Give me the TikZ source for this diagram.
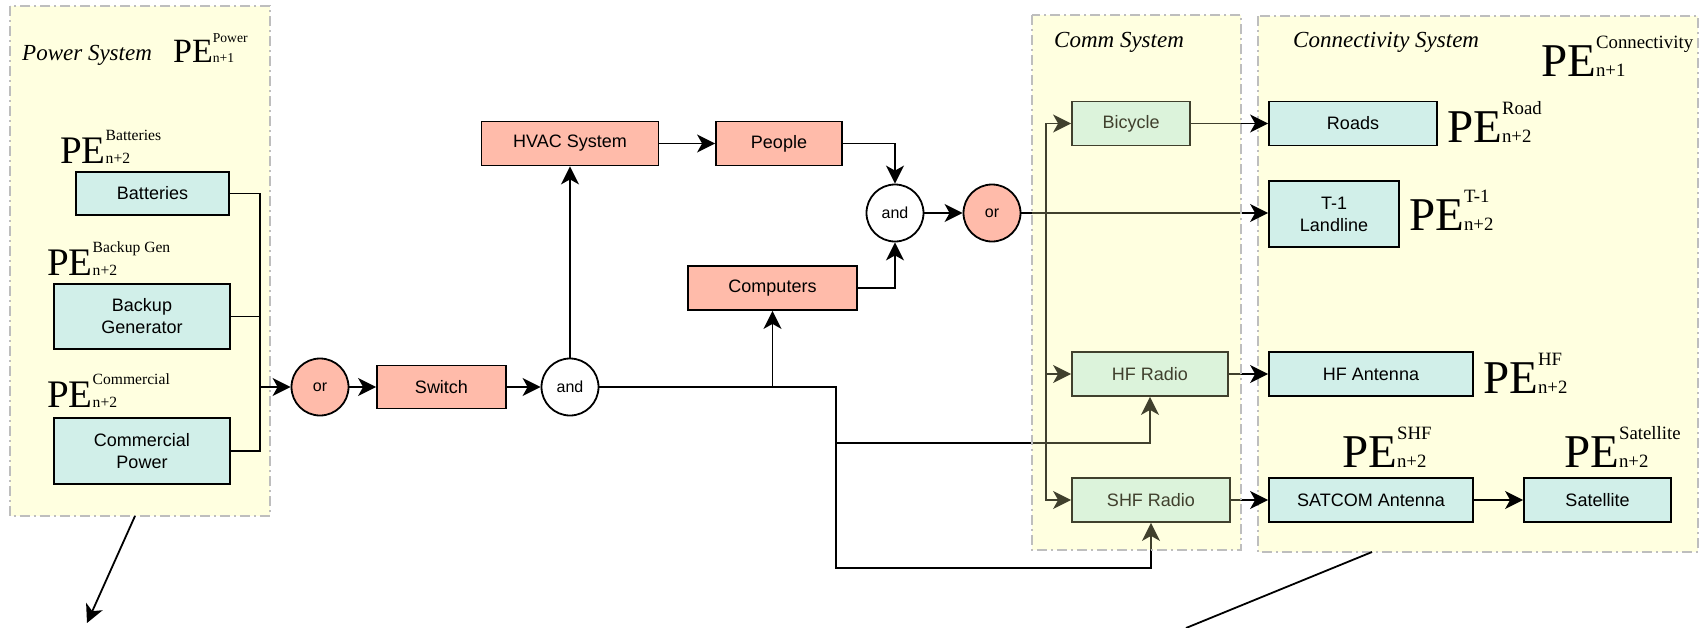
\documentclass[tikz,border=0pt]{standalone}
\usepackage{fontspec}
\setmainfont{Liberation Serif}
\setsansfont{Liberation Sans}
\usetikzlibrary{arrows.meta}
\definecolor{cyanbox}{RGB}{209,239,233}
\definecolor{salmon}{RGB}{255,187,170}
\definecolor{contyel}{RGB}{255,255,224}
\definecolor{commbase}{RGB}{255,255,239}
\definecolor{commtint}{RGB}{255,255,180}
\definecolor{contgray}{RGB}{190,190,190}
\newcommand{\PE}[4]{{\fontsize{#1}{#1}\selectfont PE}\makebox[0pt][l]{\raisebox{\dimexpr #1pt*58/100\relax}{\fontsize{#2}{#2}\selectfont #3}}\raisebox{-\dimexpr #1pt*2/100\relax}{\fontsize{#2}{#2}\selectfont #4}}
\tikzset{
  cbox/.style={draw=black, line width=1.8pt, fill=cyanbox, inner sep=0pt, align=center,
    font=\sffamily\fontsize{18}{22}\selectfont},
  sbox/.style={draw=black, line width=1.8pt, fill=salmon, inner sep=0pt, align=center,
    font=\sffamily\fontsize{18}{22}\selectfont},
  gate/.style={draw=black, line width=1.8pt, circle, minimum size=57pt, inner sep=0pt,
    font=\sffamily\fontsize{16}{18}\selectfont},
  wire/.style={line width=1.8pt, draw=black},
  arr/.style={wire, -{Stealth[length=18pt,width=18pt,inset=5pt]}},
  contborder/.style={draw=contgray, line width=1.6pt, dash pattern=on 10pt off 4pt on 2pt off 4pt},
  title/.style={anchor=base west, inner sep=0pt, font=\itshape\fontsize{23}{23}\selectfont},
  pelab/.style={anchor=base west, inner sep=0pt}
}
\begin{document}
\begin{tikzpicture}[x=1pt,y=-1pt]
\useasboundingbox (0,0) rectangle (1706,627);
% containers (base)
\fill[contyel] (10,6) rectangle (270,516);
\fill[commbase] (1032,15) rectangle (1241,550);
\fill[contyel] (1258,16) rectangle (1698,552);
\draw[contborder] (10,6) rectangle (270,516);
\draw[contborder] (1258,16) rectangle (1698,552);

% power system nodes
\node[cbox, minimum width=153pt, minimum height=43pt] (bat) at (152.5,193.5) {Batteries};
\node[cbox, minimum width=176pt, minimum height=65pt] (gen) at (142,316.5) {Backup\\Generator};
\node[cbox, minimum width=176pt, minimum height=66pt] (com) at (142,451) {Commercial\\Power};

\node[gate, fill=salmon] (or1) at (320,387) {or};
\node[sbox, minimum width=129pt, minimum height=43pt] (sw) at (441.5,387) {Switch};
\node[gate, fill=white] (and1) at (570,387) {and};
\node[sbox, minimum width=177pt, minimum height=44pt] (hvac) at (570,143.5) {HVAC System};
\node[sbox, minimum width=126pt, minimum height=44pt] (ppl) at (779,143.5) {People};
\node[sbox, minimum width=169pt, minimum height=44pt] (cmp) at (772.5,288) {Computers};
\node[gate, fill=white] (and2) at (895,213) {and};
\node[gate, fill=salmon] (or2) at (992,213) {or};

% comm system nodes
\node[cbox, minimum width=118pt, minimum height=44pt] (bike) at (1131,123.5) {Bicycle};
\node[cbox, minimum width=156pt, minimum height=44pt] (hf) at (1150,374) {HF Radio};
\node[cbox, minimum width=158pt, minimum height=44pt] (shf) at (1151,500) {SHF Radio};

% connectivity nodes
\node[cbox, minimum width=168pt, minimum height=44pt] (road) at (1353,123.5) {Roads};
\node[cbox, minimum width=130pt, minimum height=66pt] (t1) at (1334,214) {T-1\\Landline};
\node[cbox, minimum width=204pt, minimum height=44pt] (hfa) at (1371,374) {HF Antenna};
\node[cbox, minimum width=204pt, minimum height=44pt] (sat) at (1371,500) {SATCOM Antenna};
\node[cbox, minimum width=147pt, minimum height=44pt] (sl) at (1597.5,500) {Satellite};

% coordinates
\coordinate (pb1) at (260,193.5);
\coordinate (pb2) at (260,316.5);
\coordinate (pb3) at (260,451);
\coordinate (pbo) at (260,387);
\coordinate (j1) at (772.5,387);
\coordinate (j2) at (836,387);
\coordinate (j3) at (836,443);
\coordinate (j4) at (836,568);
\coordinate (jb) at (1046,213);
\coordinate (pwrout) at (135,516);
\coordinate (pwrend) at (87,623);
\coordinate (conout) at (1372,552);
\coordinate (conend) at (1186,628);

% power wiring
\draw[wire] (bat.east) -- (pb1) -- (pb3) -- (com.east);
\draw[wire] (gen.east) -- (pb2);
\draw[arr] (pbo) -- (or1.west);
\draw[arr] (or1.east) -- (sw.west);
\draw[arr] (sw.east) -- (and1.west);
\draw[arr] (and1.north) -- (hvac.south);
\draw[arr] (hvac.east) -- (ppl.west);
\draw[arr] (ppl.east) -| (and2.north);
\draw[arr] (cmp.east) -| (and2.south);
\draw[arr] (and2.east) -- (or2.west);
\draw[arr] (j1) -- (cmp.south);
\draw[arr] (and1.east) -- (j2) -- (j4) -| (shf.south);
\draw[arr] (j3) -| (hf.south);

% comm wiring
\draw[arr] (or2.east) -- (t1.west |- or2.east);
\draw[arr] (jb) |- (bike.west);
\draw[arr] (jb) |- (hf.west);
\draw[arr] (jb) |- (shf.west);
\draw[arr] (bike.east) -- (road.west);
\draw[arr] (hf.east) -- (hfa.west);
\draw[arr] (shf.east) -- (sat.west);
\draw[arr] (sat.east) -- (sl.west);

% comm overlay tint
\fill[commtint, fill opacity=0.25] (1032,15) rectangle (1241,550);
\draw[contborder] (1032,15) rectangle (1241,550);
\draw[contborder] (10,6) -- (10,516) -- (270,516);

% outgoing arrows
\draw[arr] (pwrout) -- (pwrend);
\draw[wire] (conout) -- (conend);

% titles
\node[title] (tpow) at (22,60) {Power System};
\node[title] (tcom) at (1054,47) {Comm System};
\node[title] (tcon) at (1293,47) {Connectivity System};

% PE labels
\node[pelab] (pepow) at (173,62) {\PE{34}{13.6}{Power}{n+1}};
\node[pelab] (pebat) at (60,163) {\PE{39}{15.6}{Batteries}{n+2}};
\node[pelab] (pegen) at (47,275) {\PE{39}{15.6}{Backup Gen}{n+2}};
\node[pelab] (pecom) at (47,407) {\PE{39}{15.6}{Commercial}{n+2}};
\node[pelab] (pecon) at (1541,76) {\PE{47}{18.8}{Connectivity}{n+1}};
\node[pelab] (peroad) at (1447,142) {\PE{47}{18.8}{Road}{n+2}};
\node[pelab] (pet1) at (1409,230) {\PE{47}{18.8}{T-1}{n+2}};
\node[pelab] (pehf) at (1483,393) {\PE{47}{18.8}{HF}{n+2}};
\node[pelab] (peshf) at (1342,467) {\PE{47}{18.8}{SHF}{n+2}};
\node[pelab] (pesl) at (1564,467) {\PE{47}{18.8}{Satellite}{n+2}};
\end{tikzpicture}
\end{document}
